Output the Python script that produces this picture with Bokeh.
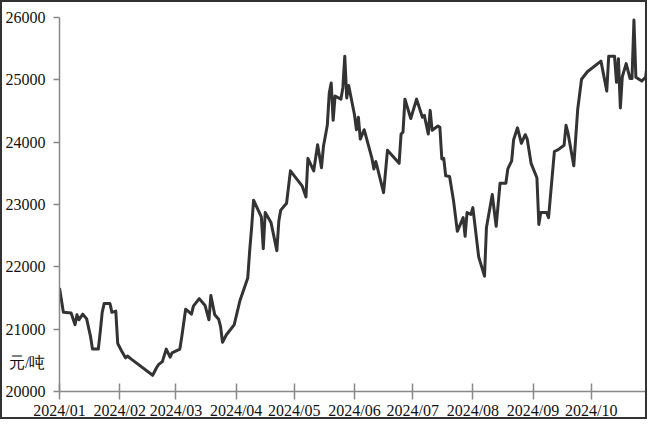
from datetime import datetime
from bokeh.plotting import figure
from bokeh.models import FixedTicker, Range1d
from bokeh.embed import file_html
from bokeh.resources import INLINE

dates = [
    "2024-01-01","2024-01-03","2024-01-07","2024-01-09","2024-01-10","2024-01-11","2024-01-13","2024-01-15","2024-01-17","2024-01-18","2024-01-21","2024-01-22","2024-01-23","2024-01-24","2024-01-27","2024-01-28","2024-01-30","2024-01-31",
    "2024-02-02","2024-02-04","2024-02-05","2024-02-07","2024-02-18","2024-02-20","2024-02-21","2024-02-23","2024-02-25","2024-02-27","2024-02-28",
    "2024-03-03","2024-03-04","2024-03-06","2024-03-09","2024-03-10","2024-03-13","2024-03-16","2024-03-18","2024-03-19","2024-03-21","2024-03-23","2024-03-24","2024-03-25","2024-03-27","2024-03-31",
    "2024-04-03","2024-04-07","2024-04-08","2024-04-09","2024-04-10","2024-04-14","2024-04-15","2024-04-16","2024-04-19","2024-04-22","2024-04-23","2024-04-24","2024-04-27","2024-04-29",
    "2024-05-05","2024-05-07","2024-05-08","2024-05-11","2024-05-13","2024-05-15","2024-05-16","2024-05-18","2024-05-19","2024-05-20","2024-05-21","2024-05-22","2024-05-25","2024-05-26","2024-05-27","2024-05-28","2024-05-29",
    "2024-06-01","2024-06-02","2024-06-03","2024-06-04","2024-06-06","2024-06-10","2024-06-11","2024-06-12","2024-06-16","2024-06-18","2024-06-24","2024-06-25","2024-06-26","2024-06-27","2024-06-30",
    "2024-07-03","2024-07-06","2024-07-07","2024-07-09","2024-07-10","2024-07-11","2024-07-14","2024-07-15","2024-07-16","2024-07-17","2024-07-18","2024-07-20","2024-07-22","2024-07-24","2024-07-27","2024-07-28","2024-07-29","2024-07-31",
    "2024-08-01","2024-08-04","2024-08-07","2024-08-08","2024-08-11","2024-08-13","2024-08-15","2024-08-18","2024-08-19","2024-08-21","2024-08-22","2024-08-24","2024-08-26","2024-08-28","2024-08-29","2024-08-31",
    "2024-09-03","2024-09-04","2024-09-05","2024-09-08","2024-09-09","2024-09-12","2024-09-14","2024-09-17","2024-09-18","2024-09-19","2024-09-22","2024-09-24","2024-09-26","2024-09-29",
    "2024-10-06","2024-10-09","2024-10-10","2024-10-13","2024-10-14","2024-10-15","2024-10-16","2024-10-17","2024-10-19","2024-10-21","2024-10-22","2024-10-23","2024-10-24","2024-10-27","2024-10-29","2024-10-30",
]

prices = [
    21660,21270,21260,21070,21230,21150,21240,21165,20880,20680,20680,20960,21270,21410,21410,21270,21290,20770,
    20650,20540,20570,20520,20260,20380,20430,20480,20680,20550,20620,
    20680,20880,21320,21240,21370,21490,21380,21150,21540,21230,21160,21040,20790,20910,21070,
    21460,21820,22260,22630,23070,22800,22290,22870,22710,22260,22730,22910,23020,23540,
    23300,23120,23740,23540,23960,23590,23930,24270,24790,24950,24350,24740,24690,24870,25380,24710,24910,
    24440,24200,24400,24050,24200,23740,23570,23690,23190,23870,23660,24130,24160,24690,24380,
    24690,24400,24430,24130,24510,24190,24260,24240,23730,23740,23460,23450,23070,22570,22790,22490,22870,22840,
    22950,22160,21850,22630,23160,22650,23340,23340,23570,23700,24040,24230,23980,24120,24050,23660,
    23430,22680,22870,22870,22790,23850,23880,23950,24270,24150,23620,24520,25010,25130,
    25300,24820,25380,25380,24960,25340,24550,25050,25260,25020,25020,25960,25040,24980,25040,25300,
]

month_ticks = ["2024-01-01","2024-02-01","2024-03-01","2024-04-01","2024-05-01","2024-06-01",
               "2024-07-01","2024-08-01","2024-09-01","2024-10-01"]
month_labels = ["2024/01","2024/02","2024/03","2024/04","2024/05","2024/06",
                "2024/07","2024/08","2024/09","2024/10"]
y_ticks = [20000, 21000, 22000, 23000, 24000, 25000, 26000]
unit_label = "元/吨"
unit_label_at = 20470  # vertical position of the unit text, just above the 20000 tick

def to_dt(s):
    return datetime.strptime(s, "%Y-%m-%d")

def to_ms(s):
    return (to_dt(s) - datetime(1970, 1, 1)).total_seconds() * 1000.0

xs = [to_dt(d) for d in dates]

p = figure(width=647, height=419, x_axis_type="datetime",
           output_backend="svg", toolbar_location=None,
           min_border_left=57, min_border_right=1, min_border_top=15, min_border_bottom=26)
p.x_range = Range1d(to_ms("2024-01-01"), to_ms("2024-10-30") + 12 * 3600 * 1000.0)
p.y_range = Range1d(20000, 26000)

p.line(xs, prices, line_color="#333333", line_width=3, line_join="round")

p.grid.visible = False
p.outline_line_color = None
p.background_fill_color = "white"
p.border_fill_color = "white"
p.styles = {"border": "2px solid #333333"}

font = "Liberation Sans Narrow"

xa = p.xaxis[0]
xa.ticker = FixedTicker(ticks=[to_ms(m) for m in month_ticks])
xa.major_label_overrides = {to_ms(m): lab for m, lab in zip(month_ticks, month_labels)}
xa.axis_line_color = "#888888"
xa.axis_line_width = 1.5
xa.major_tick_line_color = "#888888"
xa.major_tick_line_width = 1.5
xa.major_tick_in = 8
xa.major_tick_out = 8
xa.minor_tick_line_color = None
xa.major_label_text_font = font
xa.major_label_text_font_size = "16px"
xa.major_label_text_color = "#111111"
xa.major_label_standoff = 2

# y axis: labelled positions include the unit text; tick marks drawn as minor ticks at the values
ya = p.yaxis[0]
ya.ticker = FixedTicker(ticks=y_ticks + [unit_label_at], minor_ticks=y_ticks)
ya.major_label_overrides = {unit_label_at: unit_label}
ya.axis_line_color = "#888888"
ya.axis_line_width = 1.5
ya.major_tick_line_color = None
ya.major_tick_in = 0
ya.major_tick_out = 0
ya.minor_tick_line_color = "#888888"
ya.minor_tick_line_width = 1.5
ya.minor_tick_in = 0
ya.minor_tick_out = 6
ya.major_label_text_font = font
ya.major_label_text_font_size = "16px"
ya.major_label_text_color = "#111111"
ya.major_label_standoff = 8

open("out.html", "w").write(file_html(p, INLINE))
